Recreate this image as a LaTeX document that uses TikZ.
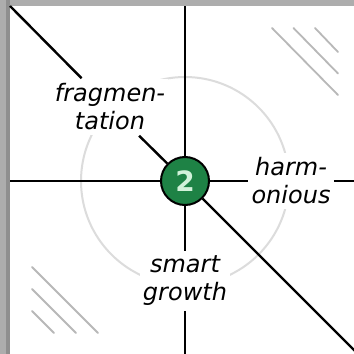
\documentclass[tikz,border=0pt]{standalone}
\usepackage{fontspec}
\setmainfont{DejaVu Sans}
\usepackage{xcolor}
\usetikzlibrary{positioning}
\definecolor{framegray}{HTML}{ADADAD}
\definecolor{edgegray}{HTML}{8F8F8F}
\definecolor{ringgray}{HTML}{DCDCDC}
\definecolor{hatchgray}{HTML}{B8B8B8}
\definecolor{hubgreen}{HTML}{1E8245}
\definecolor{hubmint}{HTML}{D2F2DA}

\begin{document}
\begin{tikzpicture}[x=0.5pt, y=-0.5pt,
    axis/.style={draw=black, line width=1.2pt},
    hatch/.style={draw=hatchgray, line width=0.9pt, line cap=round},
    tag/.style={fill=white, align=center, inner xsep=1.5pt, inner ysep=2.5pt,
                font=\fontsize{12}{14}\selectfont\itshape},
    hub/.style={circle, draw=black, line width=1pt, fill=hubgreen,
                minimum size=24pt, inner sep=0pt, text=hubmint,
                font=\fontsize{14}{16}\selectfont\bfseries}]
  \useasboundingbox (0,0) rectangle (354,354);
  % khung xam va nen trang
  \fill[framegray] (0,0) rectangle (354,354);
  \fill[edgegray] (6,0) rectangle (10,354);
  \fill[white] (10,6) rectangle (354,354);
  % vong tron mo quanh tam
  \draw[ringgray, line width=1pt] (185,181) circle[radius=104];
  % cac vach cheo mo o hai goc
  \foreach \k in {0,1,2} {
    \draw[hatch] (272+21.5*\k, 28) -- (338, 95-21.5*\k);
    \draw[hatch] (32, 267+22*\k) -- (98-22*\k, 333);
  }
  % nhan chu (nen trang che duong)
  \node[tag] (frag) at (110,107) {fragmen-\\tation};
  \node[tag] (harm) at (291,181) {harm-\\onious};
  \node[tag] (smart) at (185,281) {smart\\growth};
  \node[hub] (hub) at (185,181) {2};
  % dau mut cac truc
  \coordinate (nw) at (10,6);
  \coordinate (se) at (358,354);
  \coordinate (west) at (10,181);
  \coordinate (east) at (354,181);
  \coordinate (north) at (185,6);
  \coordinate (south) at (185,354);
  \draw[axis] (nw) -- (frag) -- (hub) -- (se);
  \draw[axis] (west) -- (hub) -- (harm) -- (east);
  \draw[axis] (north) -- (hub) -- (smart) -- (south);
\end{tikzpicture}
\end{document}
